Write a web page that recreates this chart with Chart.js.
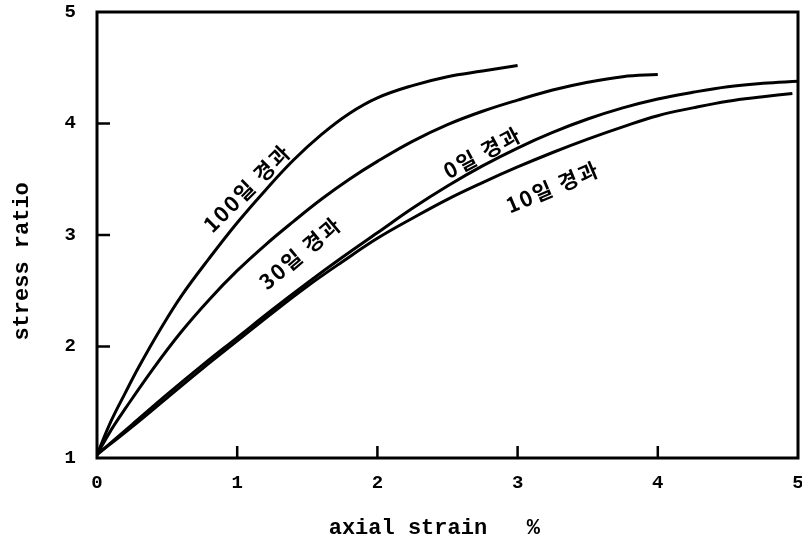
<!DOCTYPE html>
<html lang="ko">
<head>
  <meta charset="UTF-8" />
  <title>stress ratio - axial strain</title>
  <script src="https://cdn.jsdelivr.net/npm/chart.js@4"></script>
  <style>
    html, body { margin: 0; padding: 0; background: #fff; }
    #wrap { width: 802px; height: 547px; }
  </style>
</head>
<body>
  <div id="wrap"><canvas id="chart" width="802" height="547"></canvas></div>
  <script>
    // curves: axial strain (%) vs stress ratio
    const strain100 = [0, 0.1, 0.2, 0.3, 0.45, 0.6, 0.8, 1.0, 1.2, 1.4, 1.6, 1.8, 2.0, 2.25, 2.5, 2.75, 3.0];
    const stress100 = [1.03, 1.33, 1.58, 1.82, 2.15, 2.45, 2.79, 3.11, 3.4, 3.67, 3.9, 4.09, 4.23, 4.34, 4.42, 4.47, 4.52];

    const strain30 = [0, 0.1, 0.2, 0.4, 0.6, 0.8, 1.0, 1.2, 1.4, 1.6, 1.8, 2.0, 2.25, 2.5, 2.75, 3.0, 3.25, 3.5, 3.75, 4.0];
    const stress30 = [1.03, 1.25, 1.44, 1.8, 2.13, 2.42, 2.68, 2.91, 3.12, 3.32, 3.5, 3.66, 3.84, 3.99, 4.11, 4.21, 4.3, 4.37, 4.42, 4.44];

    const strain0 = [0, 0.25, 0.5, 0.75, 1.0, 1.25, 1.5, 1.75, 2.0, 2.25, 2.5, 2.75, 3.0, 3.25, 3.5, 3.75, 4.0, 4.25, 4.5, 4.75, 5.0];
    const stress0 = [1.03, 1.3, 1.57, 1.83, 2.08, 2.33, 2.57, 2.8, 3.02, 3.24, 3.44, 3.62, 3.78, 3.92, 4.04, 4.14, 4.22, 4.28, 4.33, 4.36, 4.38];

    const strain10 = [0, 0.25, 0.5, 0.75, 1.0, 1.25, 1.5, 1.75, 2.0, 2.25, 2.5, 2.75, 3.0, 3.25, 3.5, 3.75, 4.0, 4.25, 4.5, 4.75, 4.96];
    const stress10 = [1.03, 1.28, 1.54, 1.8, 2.05, 2.3, 2.54, 2.76, 2.97, 3.15, 3.32, 3.47, 3.61, 3.74, 3.86, 3.97, 4.07, 4.14, 4.2, 4.24, 4.27];

    const seriesNames = ['100일 경과', '30일 경과', '0일 경과', '10일 경과'];
    const xTicks = [0, 1, 2, 3, 4, 5];
    const yTicks = [1, 2, 3, 4, 5];

    // where the curve names sit (data units) and their slant
    const labelX = [1.07, 1.45, 2.75, 3.25];
    const labelY = [3.42, 2.84, 3.74, 3.43];
    const labelAngle = [-45, -40, -28, -23];

    const toPoints = (xs, ys) => xs.map((x, i) => ({ x: x, y: ys[i] }));

    const curves = [
      toPoints(strain100, stress100),
      toPoints(strain30, stress30),
      toPoints(strain0, stress0),
      toPoints(strain10, stress10)
    ];

    const monoFont = { family: "'Liberation Mono', 'DejaVu Sans Mono', monospace", weight: 'bold' };

    // frame + inward tick marks + curve names
    const framePlugin = {
      id: 'frame',
      afterDraw(chart) {
        const { ctx, chartArea: a, scales } = chart;
        ctx.save();
        ctx.strokeStyle = '#000';
        ctx.lineWidth = 3;
        ctx.strokeRect(a.left, a.top, a.right - a.left, a.bottom - a.top);

        ctx.lineWidth = 2.5;
        ctx.beginPath();
        scales.x.ticks.forEach(t => {
          if (t.value <= 0 || t.value >= 5) return;
          const px = scales.x.getPixelForValue(t.value);
          ctx.moveTo(px, a.bottom);
          ctx.lineTo(px, a.bottom - 12);
        });
        scales.y.ticks.forEach(t => {
          if (t.value <= 1 || t.value >= 5) return;
          const py = scales.y.getPixelForValue(t.value);
          ctx.moveTo(a.left, py);
          ctx.lineTo(a.left + 13, py);
        });
        ctx.stroke();

        ctx.fillStyle = '#000';
        ctx.font = "bold 21px 'Noto Sans CJK KR', sans-serif";
        ctx.textAlign = 'center';
        ctx.textBaseline = 'middle';
        ctx.letterSpacing = '2px';
        seriesNames.forEach((name, i) => {
          const px = scales.x.getPixelForValue(labelX[i]);
          const py = scales.y.getPixelForValue(labelY[i]);
          ctx.save();
          ctx.translate(px, py);
          ctx.rotate(labelAngle[i] * Math.PI / 180);
          ctx.fillText(name, 0, 0);
          ctx.restore();
        });
        ctx.restore();
      }
    };

    const ctx = document.getElementById('chart').getContext('2d');
    const chart = new Chart(ctx, {
      type: 'line',
      data: {
        datasets: curves.map((pts, i) => ({
          label: seriesNames[i],
          data: pts,
          borderColor: '#000',
          borderWidth: 3,
          pointRadius: 0,
          fill: false,
          tension: 0.4
        }))
      },
      options: {
        responsive: false,
        animation: false,
        layout: { padding: { top: 12, right: 4, left: 0, bottom: 0 } },
        plugins: {
          legend: { display: false },
          tooltip: { enabled: false }
        },
        scales: {
          x: {
            type: 'linear',
            min: 0,
            max: 5,
            afterBuildTicks: s => { s.ticks = xTicks.map(v => ({ value: v })); },
            afterFit: s => { s.height = 89; s.paddingLeft = 0; s.paddingRight = 0; },
            grid: { display: false, drawTicks: false },
            border: { display: false },
            ticks: { color: '#000', padding: 14, font: { ...monoFont, size: 19 } },
            title: {
              display: true,
              text: 'axial strain   %  ',
              color: '#000',
              padding: { top: 0, bottom: 5 },
              font: { ...monoFont, size: 22 }
            }
          },
          y: {
            type: 'linear',
            min: 1,
            max: 5,
            afterBuildTicks: s => { s.ticks = yTicks.map(v => ({ value: v })); },
            afterFit: s => { s.width = 97; s.paddingTop = 0; s.paddingBottom = 0; },
            grid: { display: false, drawTicks: false },
            border: { display: false },
            ticks: { color: '#000', padding: 21, font: { ...monoFont, size: 19 } },
            title: {
              display: true,
              text: 'stress ratio    ',
              color: '#000',
              padding: { top: 9, bottom: 0 },
              font: { ...monoFont, size: 22 }
            }
          }
        }
      },
      plugins: [framePlugin]
    });
  </script>
</body>
</html>
